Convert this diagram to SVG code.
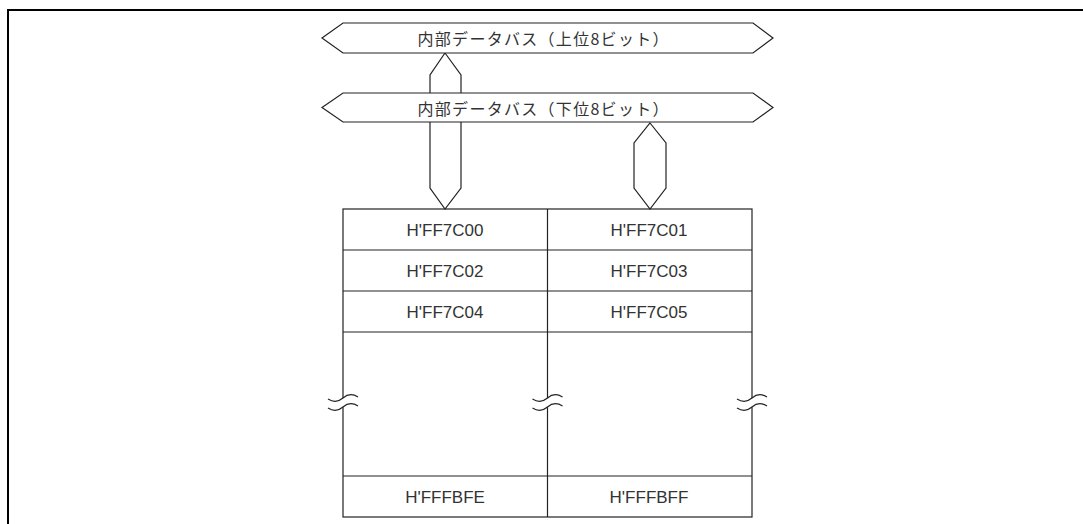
<svg xmlns="http://www.w3.org/2000/svg" width="1083" height="524" viewBox="0 0 1083 524">
<style>
.ln{fill:none;stroke:#222;stroke-width:1.2}
.shp{fill:#fff;stroke:#222;stroke-width:1.2}
.bt{font-family:"Noto Sans CJK JP","Noto Sans CJK SC",sans-serif;font-size:16px;fill:#333;text-anchor:middle}
.ct{font-family:"Liberation Sans",Arial,sans-serif;font-size:17px;fill:#333;text-anchor:middle}
.frame{fill:none;stroke:#000;stroke-width:2}
</style>
<path class="frame" d="M8,524 V10 H1083"/>
<g id="connectors">
<polygon class="shp" points="445,53 461,75 461,188 445,209 430,188 430,75"/>
<polygon class="shp" points="650,123 666,143 666,188 650,209 634,188 634,143"/>
</g>
<g id="bus-upper">
<polygon class="shp" points="322,38 343,23 753,23 773,38 753,53 343,53"/>
<text class="bt" x="543" y="45" textLength="251" lengthAdjust="spacing">内部データバス（上位8ビット）</text>
</g>
<g id="bus-lower">
<polygon class="shp" points="322,107.5 343,93 753,93 773,107.5 753,122 343,122"/>
<text class="bt" x="543" y="115" textLength="251" lengthAdjust="spacing">内部データバス（下位8ビット）</text>
</g>
<g id="memory">
<rect class="ln" x="343" y="209" width="409" height="308"/>
<path class="ln" d="M547.5,209 V517 M343,250 H752 M343,291 H752 M343,332 H752 M343,476 H752"/>
<text class="ct" x="445" y="236">H'FF7C00</text>
<text class="ct" x="649" y="236">H'FF7C01</text>
<text class="ct" x="445" y="277">H'FF7C02</text>
<text class="ct" x="649" y="277">H'FF7C03</text>
<text class="ct" x="445" y="318">H'FF7C04</text>
<text class="ct" x="649" y="318">H'FF7C05</text>
<text class="ct" x="445" y="503">H'FFFBFE</text>
<text class="ct" x="649" y="503">H'FFFBFF</text>
</g>
<g id="breaks">
<path fill="#fff" d="M328,399 Q336,404 343,398 T358,397 V406 Q351,412 343,407 T328,408 Z"/>
<path class="ln" d="M328,399 Q336,404 343,398 T358,397 M328,408 Q336,413 343,407 T358,406"/>
<path fill="#fff" d="M532.5,399 Q540.5,404 547.5,398 T562.5,397 V406 Q555.5,412 547.5,407 T532.5,408 Z"/>
<path class="ln" d="M532.5,399 Q540.5,404 547.5,398 T562.5,397 M532.5,408 Q540.5,413 547.5,407 T562.5,406"/>
<path fill="#fff" d="M737,399 Q745,404 752,398 T767,397 V406 Q760,412 752,407 T737,408 Z"/>
<path class="ln" d="M737,399 Q745,404 752,398 T767,397 M737,408 Q745,413 752,407 T767,406"/>
</g>
</svg>
